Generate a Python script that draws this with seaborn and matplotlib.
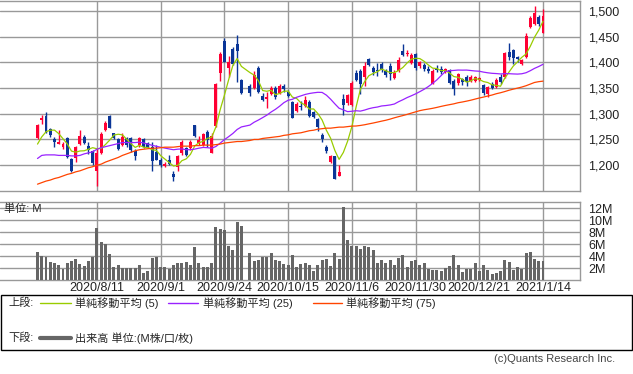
import numpy as np
import pandas as pd
import matplotlib
matplotlib.use("Agg")
import matplotlib.pyplot as plt
import seaborn as sns
from matplotlib.lines import Line2D
from matplotlib.patches import Rectangle

nan = np.nan

# 120 trading-day slots 2020/7/17 .. 2021/1/14, slot 50 = 2020/10/1 (TSE halted, empty)
date_labels = ["2020/8/11", "2020/9/1", "2020/9/24", "2020/10/15",
               "2020/11/6", "2020/11/30", "2020/12/21", "2021/1/14"]
label_slots = [15, 30, 45, 60, 75, 90, 105, 120]

opens = [1252, 1287, 1296, 1270, 1250, 1242, 1236, 1252, 1212, 1213,
         1242, 1255, 1238, 1228, 1189, 1223, 1268, 1296, 1262, 1250,
         1239, 1252, 1252, 1228, 1239, 1250, 1243, 1236, 1226, 1210,
         1199, 1210, 1182, 1197, 1223, 1233, 1233, 1278, 1244, 1239,
         1264, 1224, 1276, 1379, 1442, 1390, 1426, 1436, 1366, nan,
         1354, 1350, 1389, 1335, 1328, 1338, 1351, 1340, 1354, 1343,
         1322, 1305, 1315, 1315, 1323, 1304, 1290, 1259, 1236, 1206,
         1217, 1179, 1329, 1320, 1318, 1379, 1384, 1371, 1407, 1389,
         1386, 1396, 1384, 1392, 1370, 1384, 1422, 1417, 1399, 1416,
         1392, 1395, 1387, 1358, 1390, 1388, 1382, 1385, 1364, 1359,
         1367, 1371, 1363, 1364, 1366, 1356, 1339, 1358, 1353, 1372,
         1372, 1421, 1425, 1410, 1397, 1410, 1468, 1475, 1489, 1458]
highs = [1281, 1298, 1303, 1272, 1255, 1268, 1246, 1254, 1213, 1237,
         1268, 1259, 1245, 1230, 1231, 1265, 1286, 1298, 1263, 1252,
         1262, 1255, 1255, 1231, 1255, 1252, 1246, 1246, 1239, 1213,
         1207, 1220, 1189, 1220, 1249, 1236, 1249, 1279, 1257, 1262,
         1268, 1262, 1359, 1420, 1447, 1412, 1429, 1453, 1368, nan,
         1357, 1384, 1392, 1340, 1343, 1354, 1355, 1358, 1357, 1346,
         1324, 1322, 1324, 1335, 1326, 1306, 1292, 1263, 1239, 1220,
         1218, 1200, 1338, 1339, 1363, 1385, 1387, 1401, 1409, 1393,
         1398, 1401, 1387, 1399, 1385, 1411, 1436, 1424, 1418, 1419,
         1403, 1399, 1392, 1387, 1395, 1392, 1390, 1388, 1367, 1380,
         1370, 1375, 1375, 1374, 1372, 1358, 1355, 1361, 1369, 1377,
         1421, 1438, 1427, 1412, 1407, 1457, 1490, 1510, 1493, 1504]
lows = [1250, 1280, 1263, 1255, 1236, 1241, 1231, 1213, 1187, 1207,
        1240, 1241, 1222, 1201, 1160, 1221, 1267, 1272, 1250, 1230,
        1237, 1236, 1226, 1211, 1236, 1233, 1234, 1189, 1210, 1196,
        1196, 1200, 1169, 1189, 1220, 1217, 1230, 1255, 1239, 1238,
        1236, 1223, 1275, 1364, 1400, 1372, 1394, 1362, 1338, nan,
        1335, 1349, 1340, 1325, 1311, 1337, 1328, 1338, 1342, 1333,
        1291, 1303, 1307, 1313, 1294, 1291, 1266, 1246, 1224, 1204,
        1173, 1178, 1298, 1318, 1315, 1363, 1338, 1354, 1392, 1376,
        1374, 1382, 1371, 1366, 1367, 1382, 1412, 1413, 1397, 1385,
        1390, 1384, 1379, 1357, 1382, 1377, 1379, 1357, 1337, 1356,
        1356, 1354, 1361, 1362, 1363, 1337, 1332, 1348, 1351, 1358,
        1370, 1405, 1397, 1401, 1395, 1408, 1466, 1473, 1470, 1457]
closes = [1279, 1292, 1265, 1259, 1246, 1245, 1242, 1215, 1189, 1235,
          1257, 1244, 1230, 1204, 1224, 1261, 1282, 1273, 1253, 1232,
          1255, 1239, 1230, 1217, 1252, 1236, 1236, 1209, 1211, 1200,
          1203, 1202, 1176, 1217, 1246, 1220, 1246, 1257, 1249, 1260,
          1249, 1256, 1358, 1416, 1401, 1401, 1396, 1423, 1340, nan,
          1341, 1376, 1342, 1327, 1333, 1351, 1332, 1355, 1348, 1335,
          1292, 1319, 1313, 1326, 1296, 1293, 1274, 1250, 1227, 1218,
          1174, 1187, 1318, 1336, 1359, 1366, 1358, 1393, 1394, 1381,
          1383, 1385, 1375, 1377, 1380, 1404, 1414, 1419, 1414, 1389,
          1401, 1388, 1383, 1383, 1385, 1381, 1388, 1360, 1348, 1378,
          1361, 1361, 1372, 1371, 1369, 1340, 1352, 1350, 1365, 1361,
          1419, 1411, 1408, 1406, 1405, 1451, 1486, 1497, 1475, 1491]
# volume in millions of shares
volume = [4.72, 4.0, 3.9, 3.06, 2.9, 2.56, 1.94, 2.9, 3.2, 3.56,
          2.7, 2.4, 3.2, 3.9, 8.7, 6.4, 6.1, 4.4, 2.2, 2.56,
          2.0, 2.0, 2.0, 2.0, 2.56, 1.2, 1.56, 3.7, 3.9, 2.2,
          2.2, 1.9, 2.56, 2.9, 2.9, 3.06, 2.56, 5.56, 2.9, 2.2,
          2.2, 2.9, 8.9, 8.6, 8.4, 5.7, 5.06, 9.7, 9.06, nan,
          4.56, 3.2, 3.4, 3.9, 3.9, 4.56, 3.4, 3.2, 2.7, 2.56,
          4.2, 2.2, 2.7, 2.9, 2.56, 1.56, 2.56, 3.4, 3.56, 2.4,
          4.56, 3.56, 12.2, 6.7, 5.7, 5.7, 5.2, 5.7, 5.56, 5.06,
          2.9, 3.4, 2.9, 3.4, 2.56, 3.7, 4.2, 2.2, 3.2, 3.4,
          2.56, 2.9, 1.9, 1.7, 1.7, 1.56, 2.06, 2.4, 4.2, 2.56,
          1.4, 1.9, 1.9, 2.9, 1.56, 2.56, 1.7, 1.06, 1.2, 1.56,
          3.4, 3.06, 1.7, 2.2, 1.9, 4.56, 4.72, 3.56, 3.2, 3.2]

# moving-average values before enough closes are on the chart
ma5_head = [1241, 1255, 1265, 1268]
ma25_head = [1213, 1219, 1220, 1220, 1220, 1219, 1219, 1219, 1218, 1218,
             1219, 1222, 1224, 1226, 1231, 1234, 1236, 1238, 1240, 1242,
             1244, 1244, 1244, 1244]
ma75_head = [1163, 1166, 1169, 1171, 1174, 1176, 1179, 1182, 1184, 1187,
             1189, 1192, 1195, 1197, 1200, 1202, 1206, 1209, 1212, 1215,
             1219, 1222, 1225, 1228, 1230, 1231, 1232, 1233, 1233, 1234,
             1235, 1235, 1235, 1236, 1237, 1237, 1237, 1238, 1238, 1239,
             1239, 1239, 1240, 1241, 1243, 1244, 1245, 1246, 1246,
             1248, 1250, 1250, 1252, 1253, 1254, 1255, 1256, 1258, 1259,
             1261, 1262, 1263, 1265, 1267, 1268, 1270, 1271, 1272, 1272,
             1273, 1274, 1274, 1275, 1276]

RED = "#ff0033"
BLUE = "#0a3597"
GRID = "#999999"
ma_colors = {"ma5": "#99cc00", "ma25": "#9922ff", "ma75": "#ff4400"}

W, H = 633, 374

df = pd.DataFrame({"x": np.arange(1, len(closes) + 1), "open": opens, "high": highs,
                   "low": lows, "close": closes, "volume": volume})
td = df.dropna(subset=["close"]).copy()
for w, head in [(5, ma5_head), (25, ma25_head), (75, ma75_head)]:
    m = td["close"].rolling(w).mean().to_numpy()
    m[:w - 1] = head
    td[f"ma{w}"] = m

sns.set_style("white")
plt.rcParams["font.family"] = ["Liberation Sans", "Noto Sans CJK JP"]

fig = plt.figure(figsize=(W / 100, H / 100), dpi=100)


def fx(px):
    return px / W


def fy(py):
    return 1 - py / H


ax1 = fig.add_axes([0, fy(190.5), fx(580), 190 / H])
ax2 = fig.add_axes([0, fy(280.3), fx(580), 78.6 / H])

# candles
up = td["close"] >= td["open"]
cols = np.where(up, RED, BLUE)
ax1.vlines(td["x"], td["low"], td["high"], colors=cols, lw=1, zorder=3)
body = (td["close"] - td["open"]).abs().clip(lower=0.8)
ax1.bar(td["x"], body, bottom=td[["open", "close"]].min(axis=1), width=0.7,
        color=cols, lw=0, zorder=4)

ma_long = td.melt(id_vars="x", value_vars=["ma5", "ma25", "ma75"],
                  var_name="ma", value_name="price")
sns.lineplot(data=ma_long, x="x", y="price", hue="ma", palette=ma_colors,
             legend=False, lw=0.9, ax=ax1, zorder=5)

# volume
sns.barplot(data=df, x="x", y="volume", native_scale=True, color="#666666",
            saturation=1, width=0.7, errorbar=None, ax=ax2, zorder=3,
            antialiased=False, lw=0)

xlim = (1 - 37.5 / 4.248, 1 + 542.5 / 4.248)
for ax in (ax1, ax2):
    ax.set_xlim(*xlim)
    ax.set_xlabel("")
    ax.set_ylabel("")
    ax.set_xticks(label_slots)
    ax.grid(True, color=GRID, lw=1)
    ax.set_axisbelow(True)
    ax.yaxis.tick_right()
    ax.tick_params(length=0, labelsize=9, colors="#222222", pad=6)
    for s in ax.spines.values():
        s.set_color(GRID)
        s.set_linewidth(1)
    ax.spines["left"].set_visible(False)

ax1.set_ylim(1150.7, 1520.4)
price_ticks = [1200, 1250, 1300, 1350, 1400, 1450, 1500]
ax1.set_yticks(price_ticks)
ax1.set_yticklabels([f"{v:,}" for v in price_ticks])
ax1.set_xticklabels([])

ax2.set_ylim(0, 13.1)
vol_ticks = [2, 4, 6, 8, 10, 12]
ax2.set_yticks(vol_ticks)
ax2.set_yticklabels([f"{v}M" for v in vol_ticks])
ax2.set_xticklabels(date_labels)
ax2.tick_params(axis="x", pad=1.5)

ax2.text(4 / 580, (280.3 - 209) / 78.6, "単位: M", transform=ax2.transAxes,
         fontsize=8, va="center", ha="left", color="#222222", zorder=6)

# legend box
box_top, box_bot = 294.5, 349.5
fig.add_artist(Rectangle((fx(0.5), fy(box_bot)), fx(631.5), (box_bot - box_top) / H,
                         transform=fig.transFigure, fill=False, ec="black", lw=1))
row1, row2 = 303, 338
fig.text(fx(8), fy(row1), "上段:", fontsize=8, va="center")
fig.text(fx(8), fy(row2), "下段:", fontsize=8, va="center")
legend_items = [(40, 71, 75, ma_colors["ma5"], "単純移動平均 (5)"),
                (168, 198, 203, ma_colors["ma25"], "単純移動平均 (25)"),
                (313, 342, 346, ma_colors["ma75"], "単純移動平均 (75)")]
for x0, x1, xt, c, lab in legend_items:
    fig.add_artist(Line2D([fx(x0), fx(x1)], [fy(row1), fy(row1)], color=c, lw=1,
                          transform=fig.transFigure))
    fig.text(fx(xt), fy(row1), lab, fontsize=8, va="center")
fig.add_artist(Line2D([fx(40), fx(71)], [fy(row2), fy(row2)], color="#666666", lw=3,
                      transform=fig.transFigure))
fig.text(fx(75), fy(row2), "出来高 単位:(M株/口/枚)", fontsize=8, va="center")

fig.text(fx(615), fy(359), "(c)Quants Research Inc.", fontsize=8, va="center",
         ha="right", color="#444444")

fig.savefig("out.png", dpi=100)
